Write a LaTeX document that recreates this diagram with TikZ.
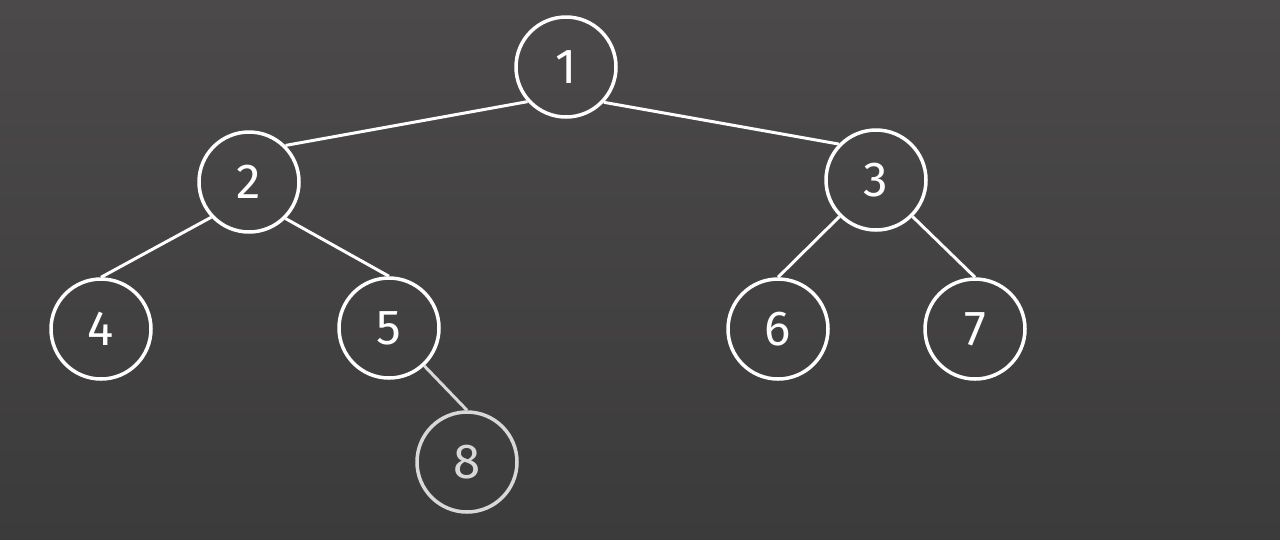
\documentclass[tikz,border=0pt]{standalone}
\usepackage{fontspec}
\setmainfont{Fira Sans}
\usetikzlibrary{calc}
\definecolor{bgtop}{RGB}{75,73,74}
\definecolor{bgbottom}{RGB}{60,59,60}
\definecolor{faded}{RGB}{216,216,216}
\tikzset{
    treenode/.style={circle,draw=white,line width=2pt,minimum size=2cm,inner sep=0pt,text=white,font=\fontsize{28}{30}\selectfont},
    fadednode/.style={treenode,draw=faded,text=faded},
    treeedge/.style={draw=white,line width=1.7pt},
    fadededge/.style={draw=faded,line width=1.7pt}
}

\begin{document}
\begin{tikzpicture}[x=0.02cm,y=-0.02cm]
    % Background
    \shade[top color=bgtop,bottom color=bgbottom] (0,0) rectangle (1280,539);
    \useasboundingbox (0,0) rectangle (1280,539);
    % Nodes
    \node[treenode] (n1) at (566,67) {1};
    \node[treenode] (n2) at (249,182) {2};
    \node[treenode] (n3) at (876,180) {3};
    \node[treenode] (n4) at (101,329) {4};
    \node[treenode] (n5) at (389,328) {5};
    \node[treenode] (n6) at (778,329) {6};
    \node[treenode] (n7) at (975,329) {7};
    \node[fadednode] (n8) at (467,462) {8};
    % Edges
    \draw[treeedge] (n1.222) -- (n2.45);
    \draw[treeedge] (n1.317) -- (n3.136);
    \draw[treeedge] (n2.223) -- (n4.north);
    \draw[treeedge] (n2.315) -- (n5.north);
    \draw[treeedge] (n3.225) -- (n6.north);
    \draw[treeedge] (n3.315) -- (n7.north);
    \draw[fadededge] (n5.313) -- (n8.north);
\end{tikzpicture}
\end{document}
